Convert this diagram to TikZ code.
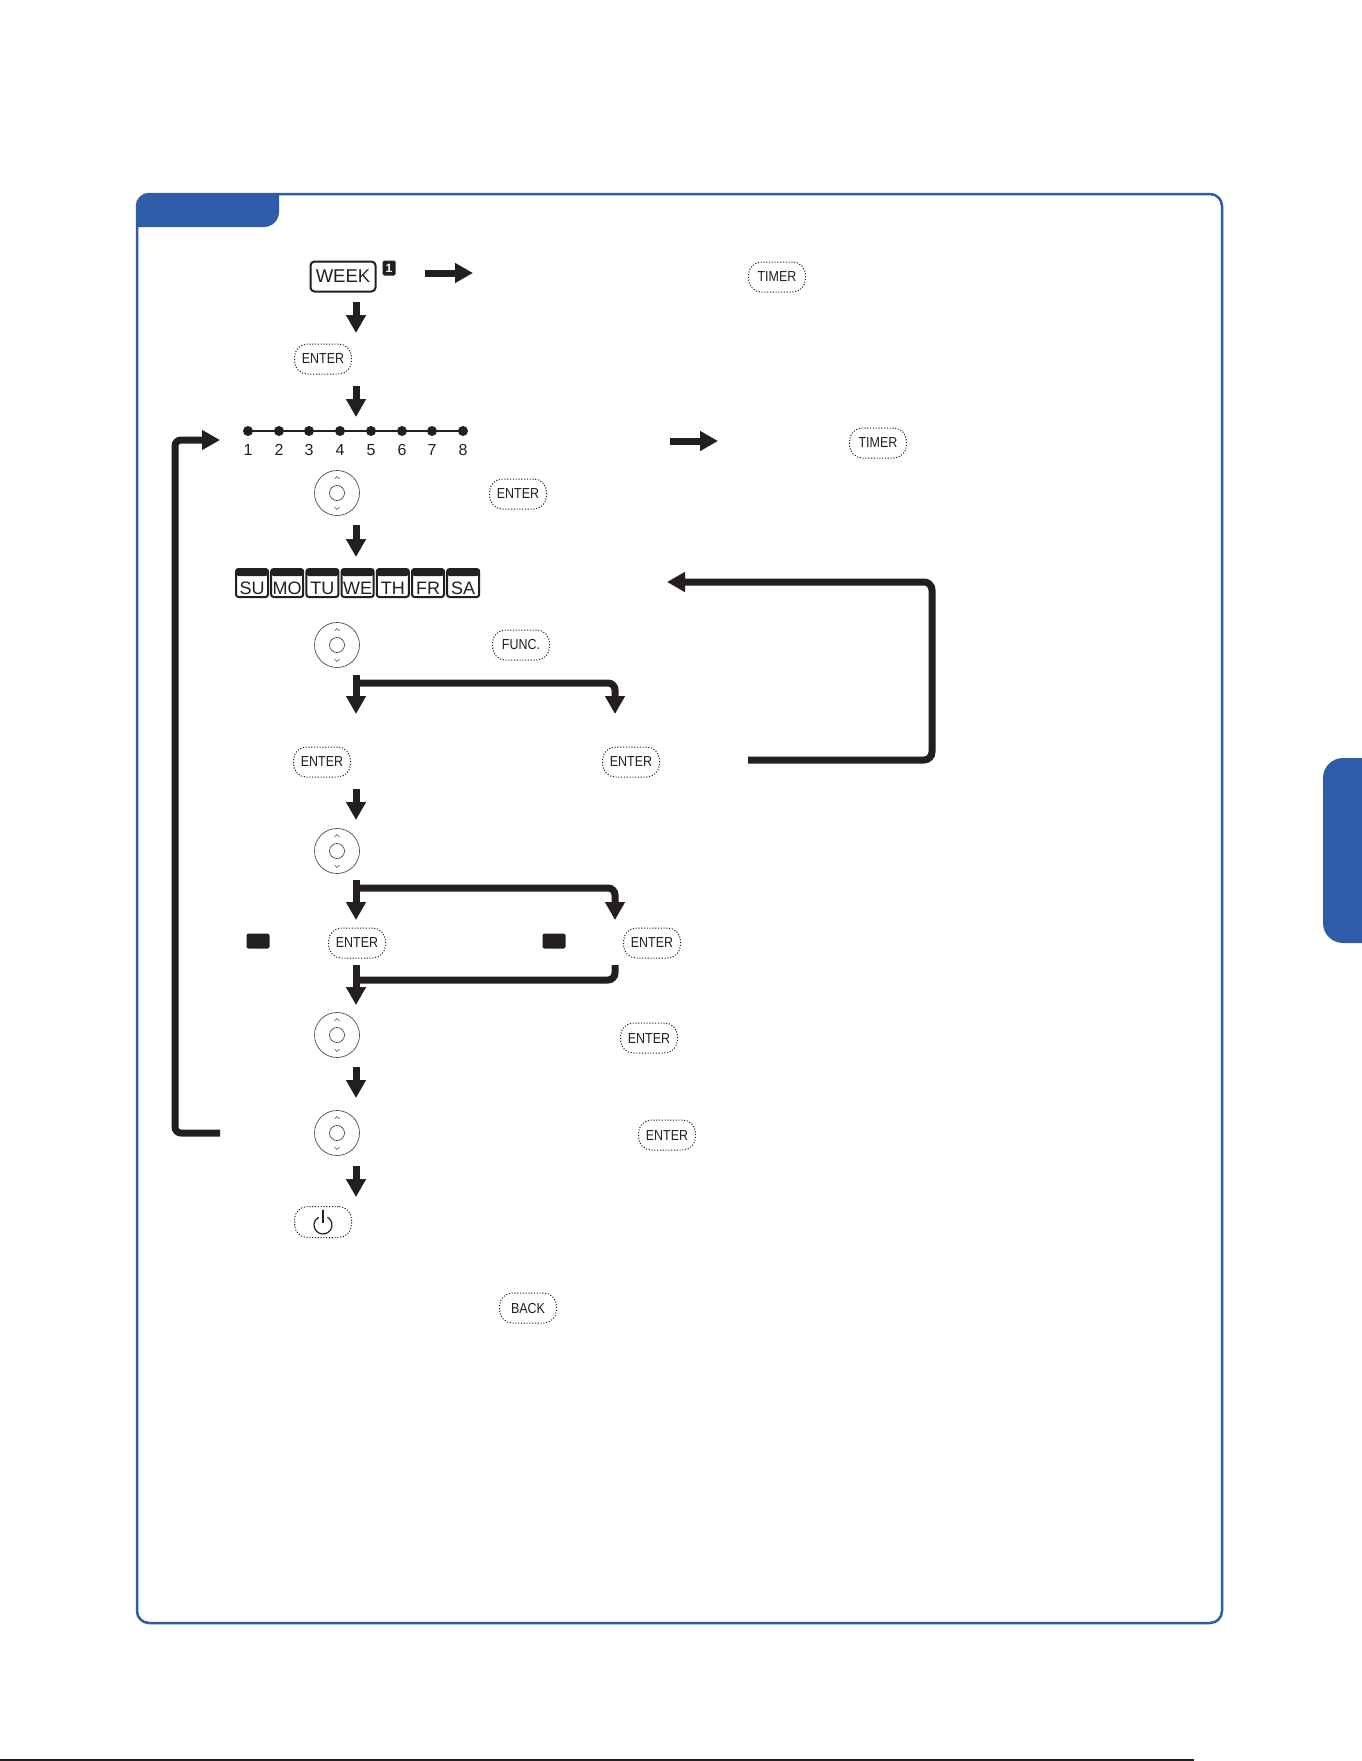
\documentclass[tikz,border=0pt]{standalone}
\usepackage{fontspec}
\setmainfont{Liberation Sans}
\newfontfamily\btnfont[FakeStretch=0.86]{Liberation Sans}
\usetikzlibrary{arrows.meta}
\definecolor{ink}{HTML}{231F20}
\definecolor{brand}{HTML}{2E5CA8}
\definecolor{dialc}{HTML}{4A4A4A}
\tikzset{
  btn/.style={draw=ink, line width=1pt, dash pattern=on 1.1pt off 1.7pt,
    rounded corners=13pt, minimum width=57pt, minimum height=30pt,
    inner sep=0pt, font=\btnfont\fontsize{14.5}{14.5}\selectfont, text=ink},
  bigarrow/.style={draw=ink, line width=7pt, -{Triangle[width=19pt,length=18pt]}},
  flowline/.style={draw=ink, line width=7pt, rounded corners=7pt},
  dialnode/.style={circle, draw=dialc, line width=0.7pt, minimum size=45pt, inner sep=0pt},
  daybox/.style={draw=ink, line width=2pt, rounded corners=2.5pt, minimum width=32pt,
    minimum height=28pt, inner sep=0pt,
    path picture={\fill[ink] (path picture bounding box.north west) rectangle
      ([yshift=-7pt]path picture bounding box.north east);}},
  daytext/.style={font=\fontsize{18}{18}\selectfont, text=ink, inner sep=0pt},
  numtext/.style={font=\fontsize{16}{16}\selectfont, text=ink, inner sep=0pt},
  blkrect/.style={fill=ink, rounded corners=2pt, minimum width=23pt, minimum height=15pt, inner sep=0pt},
  dialinner/.pic={
    \draw[dialc, line width=0.7pt] (0,0) circle (7.5pt);
    \draw[dialc, line width=0.6pt] (-2.5,-14) -- (0,-16.5) -- (2.5,-14);
    \draw[dialc, line width=0.6pt] (-2.5,14) -- (0,16.5) -- (2.5,14);
  }
}
\begin{document}
\begin{tikzpicture}[x=1pt,y=-1pt]
\useasboundingbox (0,0) rectangle (1361,1761);
\fill[white] (0,0) rectangle (1361,1761);

% frame and tabs
\begin{scope}
  \clip[rounded corners=12pt] (137,194) rectangle (1222,1623);
  \fill[brand, rounded corners=15pt] (110,170) rectangle (279,227);
\end{scope}
\draw[brand, line width=2.5pt, rounded corners=12pt] (137,194) rectangle (1222,1623);
\fill[brand, rounded corners=20pt] (1323,758) rectangle (1420,943);
\draw[ink, line width=1.5pt] (0,1760) -- (1194,1760);

% row 1
\node[draw=ink, line width=2pt, rounded corners=4pt, minimum width=65pt, minimum height=30pt,
  inner sep=0pt, font=\fontsize{18.5}{18.5}\selectfont, text=ink] (week) at (343,276.5) {WEEK};
\node[fill=ink, rounded corners=1.5pt, minimum width=13pt, minimum height=15pt, inner sep=0pt, text=white,
  font=\bfseries\fontsize{12}{12}\selectfont] (badge) at (389,268) {1};
\node[btn] (timer1) at (777,277) {TIMER};
\coordinate (r1s) at (425,273); \coordinate (r1e) at (473,273);
\draw[bigarrow] (r1s) -- (r1e);

\coordinate (a1s) at (356,302); \coordinate (a1e) at (356,333);
\draw[bigarrow] (a1s) -- (a1e);
\node[btn] (enter1) at (323,359) {ENTER};
\coordinate (a2s) at (356,386); \coordinate (a2e) at (356,417);
\draw[bigarrow] (a2s) -- (a2e);

% dots row
\draw[ink, line width=2.8pt] (248,431) -- (463,431);
\foreach \n/\x in {1/248,2/279,3/309,4/340,5/371,6/402,7/432,8/463}{
  \fill[ink] (\x,431) circle (5pt);
  \node[numtext] (num\n) at (\x,450) {\n};
}
\coordinate (r2s) at (670,441); \coordinate (r2e) at (718,441);
\draw[bigarrow] (r2s) -- (r2e);
\node[btn] (timer2) at (878,443) {TIMER};

\node[dialnode] (dial1) at (337,493) {}; \pic at (dial1.center) {dialinner};
\node[btn] (enter2) at (518,494) {ENTER};
\coordinate (a3s) at (356,525); \coordinate (a3e) at (356,557);
\draw[bigarrow] (a3s) -- (a3e);

% days
\foreach \d [count=\i from 0] in {SU,MO,TU,WE,TH,FR,SA}{
  \node[daybox] (day\i) at ({252+35.2*\i},583) {};
  \node[daytext] at ({252+35.2*\i},588) {\d};
}

\node[dialnode] (dial2) at (337,645) {}; \pic at (dial2.center) {dialinner};
\node[btn] (func) at (521,645) {FUNC.};

% branch 1
\coordinate (b1s) at (356,675); \coordinate (b1l) at (356,714);
\coordinate (b1h) at (356,683); \coordinate (b1c) at (615,683); \coordinate (b1r) at (615,714);
\draw[bigarrow] (b1s) -- (b1l);
\draw[bigarrow, rounded corners=7pt] (b1h) -- (b1c) -- (b1r);

\node[btn] (enter3) at (322,762) {ENTER};
\node[btn] (enter4) at (631,762) {ENTER};
% loop back to days
\coordinate (l1s) at (748,760); \coordinate (l1a) at (932,760);
\coordinate (l1b) at (932,582); \coordinate (l1e) at (667,582);
\draw[bigarrow, rounded corners=8pt] (l1s) -- (l1a) -- (l1b) -- (l1e);

\coordinate (a4s) at (356,789); \coordinate (a4e) at (356,820);
\draw[bigarrow] (a4s) -- (a4e);
\node[dialnode] (dial3) at (337,851) {}; \pic at (dial3.center) {dialinner};

% branch 2
\coordinate (b2s) at (356,880); \coordinate (b2l) at (356,920);
\coordinate (b2h) at (356,888); \coordinate (b2c) at (615,888); \coordinate (b2r) at (615,920);
\draw[bigarrow] (b2s) -- (b2l);
\draw[bigarrow, rounded corners=7pt] (b2h) -- (b2c) -- (b2r);

\node[blkrect] (blk1) at (258,941) {};
\node[btn] (enter5) at (357,943) {ENTER};
\node[blkrect] (blk2) at (554,941) {};
\node[btn] (enter6) at (652,943) {ENTER};

% merge
\coordinate (m1s) at (615,965); \coordinate (m1c) at (615,980); \coordinate (m1e) at (356,980);
\draw[flowline] (m1s) -- (m1c) -- (m1e);
\coordinate (m2s) at (356,965); \coordinate (m2e) at (356,1005);
\draw[bigarrow] (m2s) -- (m2e);

\node[dialnode] (dial4) at (337,1035) {}; \pic at (dial4.center) {dialinner};
\node[btn] (enter7) at (649,1038) {ENTER};
\coordinate (a5s) at (356,1067); \coordinate (a5e) at (356,1098);
\draw[bigarrow] (a5s) -- (a5e);

\node[dialnode] (dial5) at (337,1133) {}; \pic at (dial5.center) {dialinner};
\node[btn] (enter8) at (667,1135) {ENTER};
\coordinate (a6s) at (356,1166); \coordinate (a6e) at (356,1197);
\draw[bigarrow] (a6s) -- (a6e);

% left loop
\coordinate (l2s) at (220,1133); \coordinate (l2a) at (175,1133);
\coordinate (l2b) at (175,440); \coordinate (l2e) at (220,440);
\draw[bigarrow, rounded corners=6pt] (l2s) -- (l2a) -- (l2b) -- (l2e);

% power
\node[btn, minimum width=57pt, minimum height=31pt] (power) at (323,1222) {};
\draw[ink, line width=1.2pt] ([yshift=-3pt]power.center) ++(60:9pt)
  arc[start angle=60, end angle=-240, radius=9pt];
\draw[ink, line width=1.2pt] ([yshift=12pt]power.center) -- ([yshift=-1pt]power.center);

\node[btn] (back) at (528,1308) {BACK};
\end{tikzpicture}
\end{document}
